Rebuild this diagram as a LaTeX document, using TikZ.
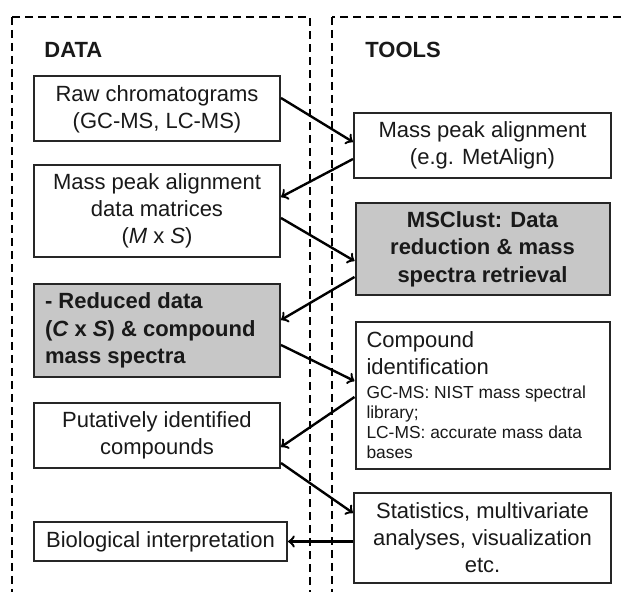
\documentclass[tikz,border=0pt]{standalone}
\usepackage{fontspec}
\setmainfont{Liberation Sans}
\usetikzlibrary{shapes,arrows}
\tikzstyle{block} = [draw, rectangle, line width=1pt, draw=black!85, fill=white, text=black!90, align=center, font=\fontsize{11}{13.5}\selectfont, minimum height=32.5pt, minimum width=123pt, inner sep=2pt]
\tikzstyle{keyblock} = [block, fill=black!22, font=\fontsize{11}{13.75}\selectfont\bfseries]
\tikzstyle{frame} = [draw, dash pattern=on 4pt off 2.5pt, line width=0.7pt]
\tikzstyle{head} = [font=\fontsize{11}{12}\selectfont\bfseries, text=black!90, anchor=west, inner sep=0pt]
\tikzstyle{flow} = [->, line width=1.2pt]

\begin{document}
\begin{tikzpicture}[auto, x=0.5pt, y=0.5pt, >=to]
    \useasboundingbox (0,0) rectangle (626,-592);
 % frames
    \draw [frame] (12,-17) rectangle (310,-620);
    \draw [frame] (332,-17) rectangle (660,-620);
    \node [head, name=datahead] at (44,-50) {DATA};
    \node [head, name=toolshead] at (365,-50) {TOOLS};
 % data nodes
    \node [block, name=raw] at (157,-109) {Raw chromatograms\\(GC-MS, LC-MS)};
    \node [block, below of=raw, node distance=51pt, minimum height=46pt, name=matrices] {Mass peak alignment\\data matrices\\(\textit{M} x \textit{S})};
    \node [keyblock, below of=matrices, node distance=59.75pt, minimum height=46.5pt, align=flush left, text width=112pt, inner xsep=5.5pt, name=reduced] {- Reduced data\\(\textit{C} x \textit{S}) \& compound\\mass spectra};
    \node [block, below of=reduced, node distance=52.5pt, name=putative] {Putatively identified\\compounds};
    \node [block, below of=putative, node distance=53pt, minimum height=19.5pt, minimum width=126.5pt, xshift=1.75pt, name=biology] {Biological interpretation};
 % tool nodes
    \node [block, minimum width=128.5pt, name=alignment] at (482.5,-145.5) {Mass peak alignment\\(e.g. MetAlign)};
    \node [keyblock, below of=alignment, node distance=51.75pt, minimum width=127pt, minimum height=46pt, name=msclust] {MSClust: Data\\reduction \& mass\\spectra retrieval};
    \node [block, below of=msclust, node distance=73.25pt, minimum height=73.5pt, align=flush left, text width=116pt, inner xsep=5.5pt, name=compound] {Compound\\identification\\[2pt]{\fontsize{8.7}{10}\selectfont GC-MS: NIST mass spectral\\library;\\LC-MS: accurate mass data\\bases\par}};
    \node [block, below of=compound, node distance=71.25pt, minimum width=128.5pt, minimum height=45pt, name=stats] {Statistics, multivariate\\analyses, visualization\\etc.};
 % edges
    \draw [flow] ([yshift=5.5pt]raw.east) -- ([yshift=1.75pt]alignment.west);
    \draw [flow] ([yshift=-6.75pt]alignment.west) -- ([yshift=7pt]matrices.east);
    \draw [flow] ([yshift=-3.5pt]matrices.east) -- ([yshift=-6pt]msclust.west);
    \draw [flow] ([yshift=-14pt]msclust.west) -- ([yshift=5.25pt]reduced.east);
    \draw [flow] ([yshift=-7.25pt]reduced.east) -- ([yshift=7.25pt]compound.west);
    \draw [flow] ([yshift=-0.75pt]compound.west) -- ([yshift=-5.75pt]putative.east);
    \draw [flow] ([yshift=-13.75pt]putative.east) -- ([yshift=12.5pt]stats.west);
    \draw [flow] (stats.west |- biology.east) -- (biology.east);
\end{tikzpicture}
\end{document}
